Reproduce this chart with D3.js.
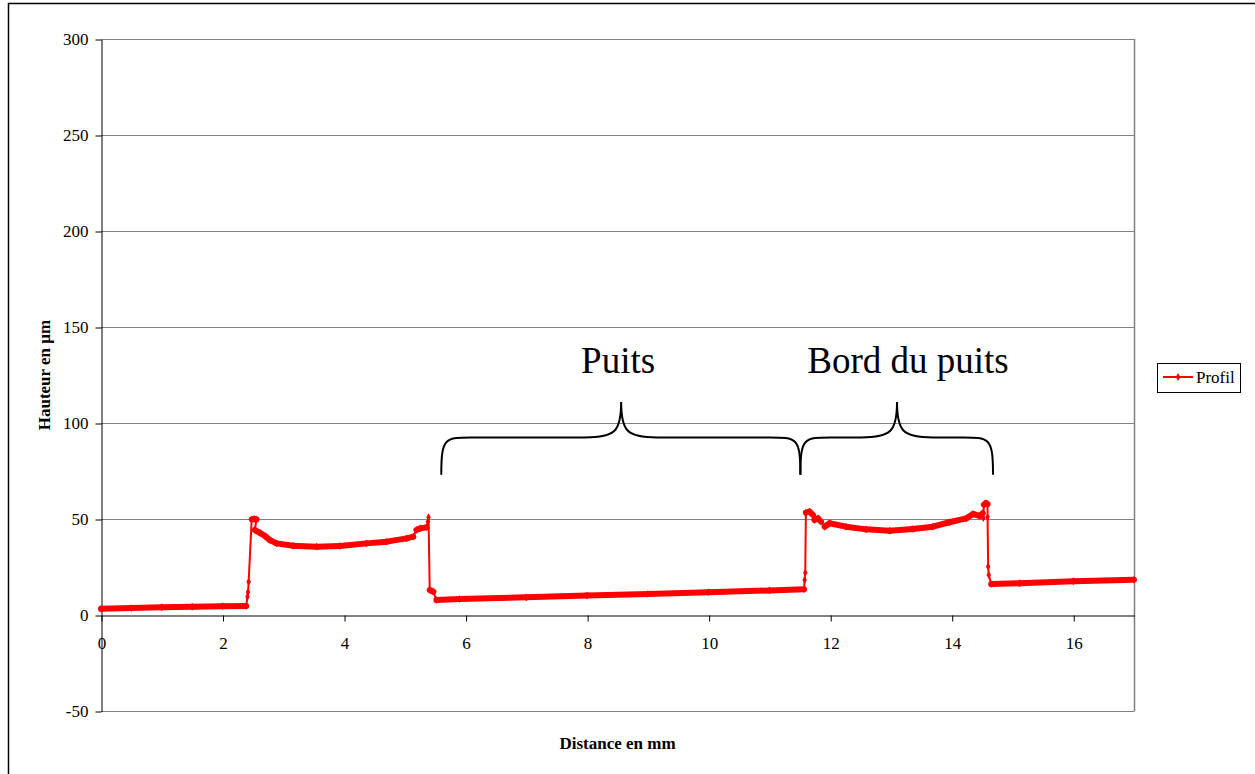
<!DOCTYPE html>
<html>
<head>
<meta charset="utf-8">
<script src="https://cdn.jsdelivr.net/npm/d3@7"></script>
<style>
  html, body { margin: 0; padding: 0; background: #fff; }
  svg { display: block; }
  text { font-family: "Liberation Serif", "Times New Roman", serif; }
</style>
</head>
<body>
<svg id="chart" width="1255" height="774"></svg>
<script>
// Surface profile: distance along the sample (mm) and measured height (µm)
const distance = [
  0, 0.5, 1.0, 1.5, 2.0, 2.39,
  2.41, 2.42, 2.43, 2.48, 2.52, 2.56, 2.53,
  2.62, 2.70, 2.78, 2.89, 3.16, 3.55, 3.93, 4.37, 4.70, 5.03, 5.14,
  5.19, 5.25, 5.36, 5.38, 5.39,
  5.41, 5.47, 5.52, 5.90, 7.0, 8.0, 9.0, 10.0, 11.0, 11.57,
  11.58, 11.59, 11.60, 11.66, 11.72, 11.74, 11.80, 11.85, 11.91, 11.99,
  12.26, 12.59, 12.98, 13.36, 13.69, 13.96, 14.24, 14.35, 14.46, 14.51,
  14.52, 14.53, 14.56, 14.59, 14.59,
  14.60, 14.61, 14.65, 15.12, 16.0, 17.0
];
const height = [
  3.2, 3.6, 4.0, 4.3, 4.6, 4.7,
  9.5, 12.0, 17.3, 49.8, 50.0, 49.8, 44.3,
  42.7, 41.1, 39.0, 37.3, 36.1, 35.6, 35.9, 37.3, 38.2, 39.9, 40.8,
  44.3, 45.1, 45.7, 48.6, 50.9,
  13.0, 12.1, 7.8, 8.3, 9.2, 10.1, 11.0, 11.9, 12.8, 13.4,
  18.2, 22.0, 53.3, 53.8, 52.0, 49.5, 50.3, 48.6, 46.0, 47.8,
  46.0, 44.6, 43.9, 44.8, 46.0, 48.3, 50.3, 52.6, 51.6, 53.0,
  50.5, 57.5, 58.2, 57.8, 51.0,
  25.2, 20.8, 16.1, 16.5, 17.6, 18.4
];

const xTicks = [0, 2, 4, 6, 8, 10, 12, 14, 16];
const yTicks = [-50, 0, 50, 100, 150, 200, 250, 300];

// Bracketed regions annotated above the profile
const regionLabels = ["Puits", "Bord du puits"];
const regionStart = [5.6, 11.51];
const regionEnd = [11.51, 14.68];
const regionTip = [8.56, 13.1];

const seriesName = "Profil";
const xTitle = "Distance en mm";
const yTitle = "Hauteur en µm";

const svg = d3.select("#chart");
const plotLeft = 101, plotRight = 1134, plotTop = 39, plotBottom = 711;

const x = d3.scaleLinear().domain([0, 17]).range([plotLeft, plotRight]);
const y = d3.scaleLinear().domain([-50, 300]).range([plotBottom, plotTop]);

// Outer frame
svg.append("rect")
  .attr("x", 8.5).attr("y", 3.5).attr("width", 1260).attr("height", 800)
  .attr("fill", "none").attr("stroke", "#000").attr("stroke-width", 1.5);

// Horizontal gridlines
svg.append("g").selectAll("line")
  .data(yTicks.filter(v => v !== 0))
  .join("line")
  .attr("x1", plotLeft).attr("x2", plotRight)
  .attr("y1", d => Math.round(y(d)) + 0.5).attr("y2", d => Math.round(y(d)) + 0.5)
  .attr("stroke", "#808080").attr("stroke-width", 1);

// Right edge of plot area
svg.append("line")
  .attr("x1", plotRight + 0.5).attr("x2", plotRight + 0.5)
  .attr("y1", plotTop).attr("y2", plotBottom + 0.5)
  .attr("stroke", "#808080").attr("stroke-width", 1.5);

const plain = d => String(d);

// Y axis
const yAxis = svg.append("g")
  .attr("transform", `translate(${plotLeft + 0.5},0.5)`)
  .call(d3.axisLeft(y).tickValues(yTicks).tickFormat(plain)
    .tickSize(6).tickSizeOuter(0).tickPadding(7));
yAxis.select(".domain").attr("stroke", "#000");
yAxis.selectAll("text").attr("font-size", 17).attr("fill", "#000")
  .style("font-family", "'Liberation Serif', serif");

// X axis along zero height
const xAxis = svg.append("g")
  .attr("transform", `translate(0.5,${Math.round(y(0)) + 0.5})`)
  .call(d3.axisBottom(x).tickValues(xTicks).tickFormat(plain)
    .tickSize(6).tickSizeOuter(0).tickPadding(15));
xAxis.select(".domain").attr("stroke", "#000");
xAxis.selectAll("text").attr("font-size", 17).attr("fill", "#000")
  .style("font-family", "'Liberation Serif', serif");

// Axis titles
svg.append("text")
  .attr("x", (plotLeft + plotRight) / 2).attr("y", 749)
  .attr("text-anchor", "middle").attr("font-size", 17).attr("font-weight", "bold")
  .text(xTitle);
svg.append("text")
  .attr("transform", `translate(50,${(plotTop + plotBottom) / 2}) rotate(-90)`)
  .attr("text-anchor", "middle").attr("font-size", 17).attr("font-weight", "bold")
  .text(yTitle);

// Profile series
const pts = distance.map((d, i) => [x(d), y(height[i])]);
const red = "#ff0000";
svg.append("path")
  .attr("d", d3.line()(pts))
  .attr("fill", "none").attr("stroke", red).attr("stroke-width", 2)
  .attr("stroke-linejoin", "round");
// dense measurement runs render as a heavy band
const flat = [];
for (let i = 1; i < pts.length; i++) {
  const dx = Math.abs(pts[i][0] - pts[i - 1][0]);
  const dy = Math.abs(pts[i][1] - pts[i - 1][1]);
  if (dy < dx * 1.2) flat.push([pts[i - 1], pts[i]]);
}
svg.append("g").selectAll("path")
  .data(flat)
  .join("path")
  .attr("d", d => d3.line()(d))
  .attr("fill", "none").attr("stroke", red).attr("stroke-width", 6)
  .attr("stroke-linecap", "round");
const diamond = d3.symbol().type(d3.symbolDiamond).size(18);
svg.append("g").selectAll("path")
  .data(pts)
  .join("path")
  .attr("transform", d => `translate(${d[0]},${d[1]})`)
  .attr("d", diamond)
  .attr("fill", red);

// Curly braces with labels
function brace(x0, x1, xt, yBase, yMid, yTip) {
  const r = 36;
  return `M${x0},${yBase} C${x0},${yMid - 2} ${x0 + 4},${yMid} ${x0 + r},${yMid}` +
    ` L${xt - r},${yMid} C${xt - 6},${yMid} ${xt},${yMid - 6} ${xt},${yTip}` +
    ` C${xt},${yMid - 6} ${xt + 6},${yMid} ${xt + r},${yMid}` +
    ` L${x1 - r},${yMid} C${x1 - 4},${yMid} ${x1},${yMid - 2} ${x1},${yBase}`;
}
const yBase = y(73), yMid = y(92.5), yTip = y(111);
regionLabels.forEach((label, i) => {
  const x0 = x(regionStart[i]), x1 = x(regionEnd[i]), xt = x(regionTip[i]);
  svg.append("path")
    .attr("d", brace(x0, x1, xt, yBase, yMid, yTip))
    .attr("fill", "none").attr("stroke", "#000").attr("stroke-width", 2);
  svg.append("text")
    .attr("x", xt + (i === 0 ? -3 : 11)).attr("y", 373)
    .attr("text-anchor", "middle").attr("font-size", 37)
    .text(label);
});

// Legend
const lg = svg.append("g");
lg.append("rect")
  .attr("x", 1157.5).attr("y", 363.5).attr("width", 83).attr("height", 29)
  .attr("fill", "#fff").attr("stroke", "#000").attr("stroke-width", 1);
lg.append("line")
  .attr("x1", 1163).attr("x2", 1193).attr("y1", 377).attr("y2", 377)
  .attr("stroke", red).attr("stroke-width", 2);
lg.append("path")
  .attr("transform", "translate(1178,377)").attr("d", diamond).attr("fill", red);
lg.append("text")
  .attr("x", 1196).attr("y", 383).attr("font-size", 17)
  .text(seriesName);
</script>
</body>
</html>
